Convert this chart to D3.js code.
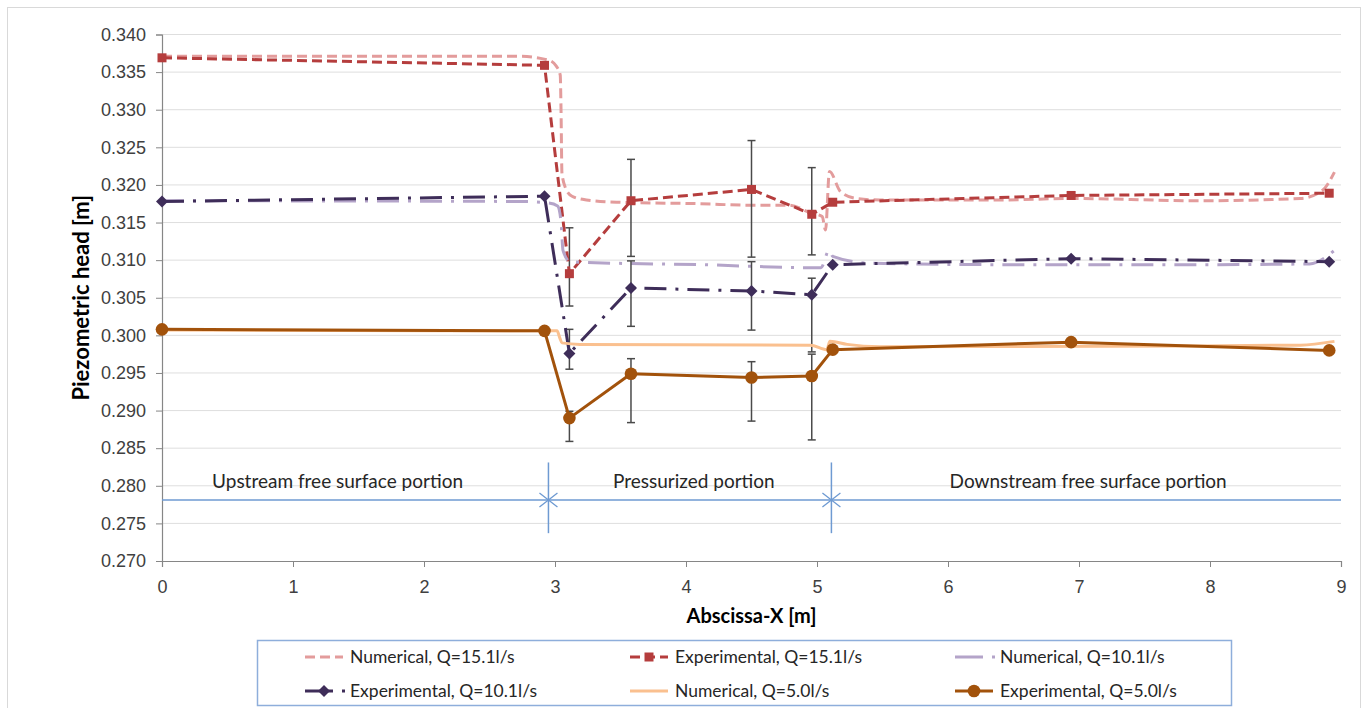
<!DOCTYPE html>
<html>
<head>
<meta charset="utf-8">
<script src="https://cdn.jsdelivr.net/npm/d3@7"></script>
<style>
  html, body { margin: 0; padding: 0; background: #fff; }
  svg { display: block; font-family: Lato, "Open Sans", sans-serif; }
  .tick-label { font-size: 18px; fill: #404040; }
  .axis-title { font-size: 20px; font-weight: bold; fill: #000; }
  .axis-title.y-title { font-size: 22px; }
  .section-label { font-size: 19px; fill: #262626; }
  .legend-label { font-size: 17.5px; fill: #262626; }
</style>
</head>
<body>
<svg id="chart" width="1367" height="708"></svg>
<script>
// axis ticks
const xTickValues = [0, 1, 2, 3, 4, 5, 6, 7, 8, 9];
const yTickValues = [0.270, 0.275, 0.280, 0.285, 0.290, 0.295, 0.300, 0.305, 0.310, 0.315, 0.320, 0.325, 0.330, 0.335, 0.340];

// experimental measurements (piezometers)
const expX = [0, 2.92, 3.11, 3.58, 4.50, 4.96, 5.12, 6.94, 8.91];
const exp151 = [0.3369, 0.3359, 0.3082, 0.3179, 0.3194, 0.3161, 0.3177, 0.3186, 0.3189];
const exp101 = [0.3178, 0.3185, 0.2976, 0.3063, 0.3059, 0.3054, 0.3094, 0.3102, 0.3098];
const exp50 = [0.3008, 0.3006, 0.2890, 0.2949, 0.2944, 0.2946, 0.2981, 0.2991, 0.2980];

// error bars in the pressurized portion
const errX = [3.11, 3.58, 4.50, 4.96];
const err151Low = [0.3039, 0.3105, 0.3104, 0.3107];
const err151High = [0.3143, 0.3234, 0.3259, 0.3223];
const err101Low = [0.2955, 0.3012, 0.3007, 0.2978];
const err101High = [0.3008, 0.3099, 0.3098, 0.3076];
const err50Low = [0.2859, 0.2884, 0.2886, 0.2861];
const err50High = [0.2899, 0.2969, 0.2965, 0.2975];

// numerical profiles
const num151X = [0, 2.73, 2.95, 3.01, 3.04, 3.046, 3.053, 3.08, 3.13, 3.24, 3.47, 4.11, 4.50, 4.79, 4.95, 5.04, 5.065, 5.095, 5.18, 5.30, 5.48, 6.40, 6.94, 7.92, 8.69, 8.86, 8.95];
const num151Y = [0.3371, 0.3371, 0.3366, 0.3358, 0.3346, 0.3300, 0.3216, 0.3196, 0.3185, 0.3180, 0.3177, 0.3175, 0.3173, 0.3173, 0.3163, 0.3158, 0.3140, 0.3218, 0.3191, 0.3182, 0.3180, 0.3180, 0.3182, 0.3179, 0.3182, 0.3193, 0.3217];
const num101X = [0, 2.73, 2.95, 3.02, 3.046, 3.061, 3.115, 3.24, 4.11, 4.96, 5.03, 5.092, 5.12, 5.40, 6.40, 7.92, 8.76, 8.95];
const num101Y = [0.3179, 0.3178, 0.3176, 0.3172, 0.3151, 0.3113, 0.3098, 0.3097, 0.3094, 0.3090, 0.3090, 0.3113, 0.3105, 0.3096, 0.3094, 0.3094, 0.3095, 0.3113];
const num50X = [0, 2.92, 3.015, 3.038, 3.053, 3.19, 4.95, 5.074, 5.099, 5.23, 5.48, 7.92, 8.69, 8.95];
const num50Y = [0.3007, 0.3006, 0.3006, 0.2996, 0.2990, 0.2988, 0.2987, 0.2981, 0.2992, 0.2988, 0.2985, 0.2986, 0.2987, 0.2992];

// flow portions along the channel
const sectionBounds = [2.95, 5.11];
const sectionLineY = 0.2781;
const sectionTickLow = 0.2737;
const sectionTickHigh = 0.2831;
const sectionLabels = ["Upstream free surface portion", "Pressurized portion", "Downstream free surface portion"];
const sectionLabelX = [1.34, 4.06, 7.07];
const sectionLabelY = 0.2806;

const series = [
  { name: "Numerical, Q=15.1l/s", x: num151X, y: num151Y, color: "#e39c9c", dash: "10 5", curve: true },
  { name: "Experimental, Q=15.1l/s", x: expX, y: exp151, color: "#b53d3d", dash: "10 5", marker: "square", err: [err151Low, err151High] },
  { name: "Numerical, Q=10.1l/s", x: num101X, y: num101Y, color: "#b4a4c9", dash: "22 9 3 9", curve: true },
  { name: "Experimental, Q=10.1l/s", x: expX, y: exp101, color: "#3e2d59", dash: "22 9 3 9", marker: "diamond", err: [err101Low, err101High] },
  { name: "Numerical, Q=5.0l/s", x: num50X, y: num50Y, color: "#fac08f", dash: null, curve: true },
  { name: "Experimental, Q=5.0l/s", x: expX, y: exp50, color: "#a2520b", dash: null, marker: "circle", err: [err50Low, err50High] },
];

const svg = d3.select("#chart");
const margin = { top: 34.5, right: 26, bottom: 147, left: 162 };
const width = 1367, height = 708;

const x = d3.scaleLinear().domain([0, 9]).range([margin.left, width - margin.right]);
const y = d3.scaleLinear().domain([0.270, 0.340]).range([height - margin.bottom, margin.top]);

// outer chart border
svg.append("rect")
  .attr("x", 7.5).attr("y", 7.5)
  .attr("width", 1353).attr("height", 720)
  .attr("fill", "none").attr("stroke", "#d9d9d9");

// gridlines
svg.append("g")
  .selectAll("line")
  .data(yTickValues.slice(1))
  .join("line")
  .attr("x1", x(0)).attr("x2", x(9))
  .attr("y1", (d) => y(d)).attr("y2", (d) => y(d))
  .attr("stroke", "#dedede").attr("stroke-width", 1);

// axes
svg.append("g")
  .attr("transform", `translate(0,${y(0.270)})`)
  .call(d3.axisBottom(x).tickValues(xTickValues).tickSize(6).tickPadding(13).tickFormat(d3.format("d")))
  .call((g) => g.select(".domain").attr("stroke", "#868686").attr("stroke-width", 1.2))
  .call((g) => g.selectAll(".tick line").attr("stroke", "#868686"))
  .call((g) => g.selectAll("text").attr("class", "tick-label").attr("font-family", null).attr("font-size", null).attr("fill", null));

svg.append("g")
  .attr("transform", `translate(${x(0)},0)`)
  .call(d3.axisLeft(y).tickValues(yTickValues).tickSize(6).tickPadding(10).tickFormat(d3.format(".3f")))
  .call((g) => g.select(".domain").attr("stroke", "#868686").attr("stroke-width", 1.2))
  .call((g) => g.selectAll(".tick line").attr("stroke", "#868686"))
  .call((g) => g.selectAll("text").attr("class", "tick-label").attr("font-family", null).attr("font-size", null).attr("fill", null));

svg.append("text")
  .attr("class", "axis-title")
  .attr("x", (x(0) + x(9)) / 2)
  .attr("y", 623)
  .attr("text-anchor", "middle")
  .text("Abscissa-X [m]");

svg.append("text")
  .attr("class", "axis-title y-title")
  .attr("transform", `translate(89,${(y(0.270) + y(0.340)) / 2}) rotate(-90)`)
  .attr("text-anchor", "middle")
  .text("Piezometric head [m]");

// section markers
const secColor = "#6e9ad2";
const secG = svg.append("g");
secG.append("line")
  .attr("x1", x(0)).attr("x2", x(9))
  .attr("y1", y(sectionLineY)).attr("y2", y(sectionLineY))
  .attr("stroke", secColor).attr("stroke-width", 1.5);
secG.selectAll(".sec-v")
  .data(sectionBounds)
  .join("line")
  .attr("x1", (d) => x(d)).attr("x2", (d) => x(d))
  .attr("y1", y(sectionTickHigh)).attr("y2", y(sectionTickLow))
  .attr("stroke", secColor).attr("stroke-width", 1.5);
secG.selectAll(".sec-x")
  .data(sectionBounds)
  .join("path")
  .attr("d", (d) => {
    const cx = x(d), cy = y(sectionLineY);
    return `M${cx - 9},${cy - 7}L${cx + 9},${cy + 7}M${cx - 9},${cy + 7}L${cx + 9},${cy - 7}`;
  })
  .attr("stroke", secColor).attr("stroke-width", 1.3).attr("fill", "none");
secG.selectAll("text")
  .data(sectionLabels)
  .join("text")
  .attr("class", "section-label")
  .attr("x", (d, i) => x(sectionLabelX[i]))
  .attr("y", y(sectionLabelY))
  .attr("dy", "0.35em")
  .attr("text-anchor", "middle")
  .text((d) => d);

// series
function markerPath(type) {
  if (type === "square") return "M-4.5,-4.5h9v9h-9z";
  if (type === "diamond") return "M0,-6L6,0L0,6L-6,0z";
  return d3.symbol(d3.symbolCircle, 125)();
}

series.forEach((s) => {
  const g = svg.append("g");
  const pts = s.x.map((xv, i) => [xv, s.y[i]]);
  const line = d3.line()
    .x((d) => x(d[0]))
    .y((d) => y(d[1]))
    .curve(s.curve ? d3.curveMonotoneX : d3.curveLinear);

  if (s.err) {
    const [lo, hi] = s.err;
    const eg = g.append("g").attr("stroke", "#4a4a4a").attr("stroke-width", 1.5);
    errX.forEach((xv, i) => {
      const cx = x(xv);
      eg.append("line").attr("x1", cx).attr("x2", cx).attr("y1", y(lo[i])).attr("y2", y(hi[i]));
      eg.append("line").attr("x1", cx - 4).attr("x2", cx + 4).attr("y1", y(lo[i])).attr("y2", y(lo[i]));
      eg.append("line").attr("x1", cx - 4).attr("x2", cx + 4).attr("y1", y(hi[i])).attr("y2", y(hi[i]));
    });
  }

  g.append("path")
    .attr("d", line(pts))
    .attr("fill", "none")
    .attr("stroke", s.color)
    .attr("stroke-width", 3)
    .attr("stroke-dasharray", s.dash)
    .attr("stroke-linejoin", "round");

  if (s.marker) {
    g.selectAll(".mk")
      .data(pts)
      .join("path")
      .attr("d", markerPath(s.marker))
      .attr("transform", (d) => `translate(${x(d[0])},${y(d[1])})`)
      .attr("fill", s.color);
  }
});

// legend
const legend = svg.append("g");
legend.append("rect")
  .attr("x", 257.5).attr("y", 640.5)
  .attr("width", 974).attr("height", 65)
  .attr("fill", "#fff").attr("stroke", "#8eaedb").attr("stroke-width", 1.5);

const legendColX = [305, 630, 955];
const legendRowY = [657, 691];
series.forEach((s, i) => {
  const lx = legendColX[i % 3];
  const ly = legendRowY[Math.floor(i / 3)];
  const dashDot = s.dash && s.dash.split(" ").length > 2;
  const item = legend.append("g");
  item.append("line")
    .attr("x1", lx).attr("x2", dashDot ? lx + 43 : lx + 38)
    .attr("y1", ly).attr("y2", ly)
    .attr("stroke", s.color).attr("stroke-width", 3)
    .attr("stroke-dasharray", dashDot ? "28 9 3 9" : s.dash);
  if (s.marker) {
    item.append("path")
      .attr("d", markerPath(s.marker))
      .attr("transform", `translate(${lx + 19},${ly})`)
      .attr("fill", s.color);
  }
  item.append("text")
    .attr("class", "legend-label")
    .attr("x", lx + 45)
    .attr("y", ly)
    .attr("dy", "0.35em")
    .text(s.name);
});
</script>
</body>
</html>
